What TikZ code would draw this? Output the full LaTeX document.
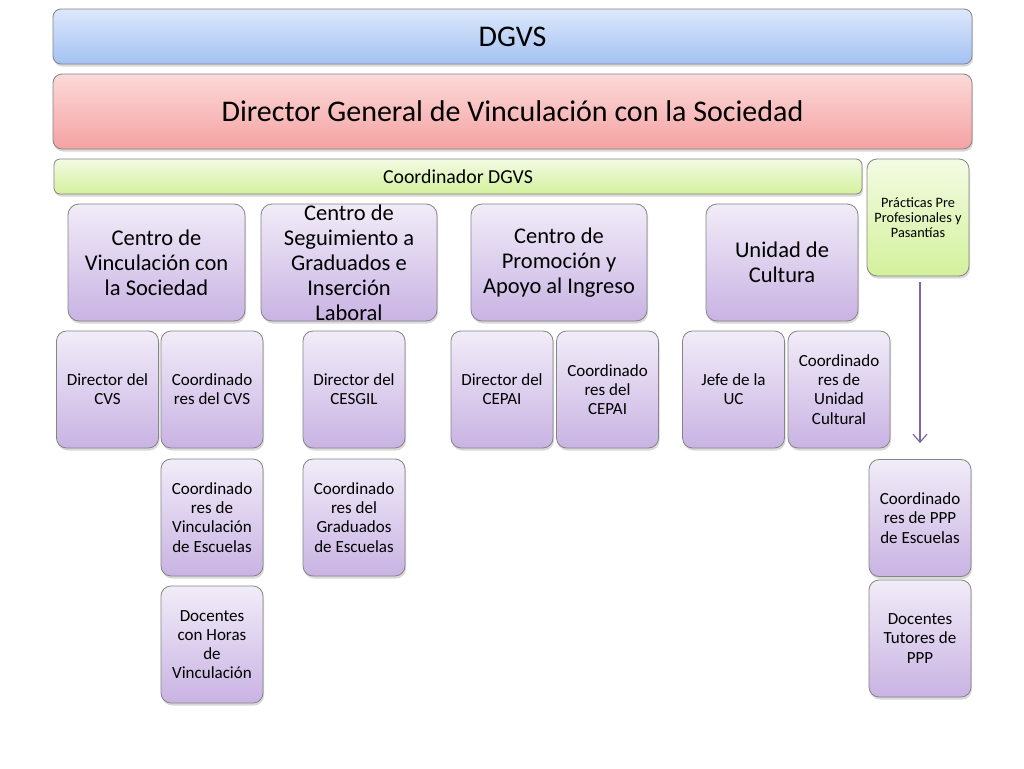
\documentclass[tikz,border=0pt]{standalone}
\usepackage{fontspec}
\setmainfont{Carlito}
\usetikzlibrary{shadows,arrows.meta}
\definecolor{bluetop}{HTML}{DDE8FB}
\definecolor{bluebot}{HTML}{A3C1F3}
\definecolor{redtop}{HTML}{FCD9D9}
\definecolor{redbot}{HTML}{F5A2A2}
\definecolor{greentop}{HTML}{F4FBE3}
\definecolor{greenbot}{HTML}{D3F19C}
\definecolor{purptop}{HTML}{F1ECF8}
\definecolor{purpbot}{HTML}{C9B3E3}
\definecolor{edgegray}{HTML}{858585}
\definecolor{arrowcol}{HTML}{7A6A9C}
\tikzset{
  basebox/.style={draw=edgegray, line width=0.8pt, inner sep=0pt, align=center,
    text=black, drop shadow={shadow xshift=1pt, shadow yshift=-2.5pt, opacity=0.3}},
  bluebox/.style={basebox, rounded corners=8pt, top color=bluetop, bottom color=bluebot},
  redbox/.style={basebox, rounded corners=9pt, top color=redtop, bottom color=redbot},
  greenbox/.style={basebox, rounded corners=6pt, top color=greentop, bottom color=greenbot},
  pppbox/.style={basebox, rounded corners=10pt, top color=greentop, bottom color=greenbot,
    minimum width=102pt, minimum height=117pt, font=\fontsize{14.3}{15}\selectfont},
  bigbox/.style={basebox, rounded corners=11pt, top color=purptop, bottom color=purpbot,
    minimum height=117pt, font=\fontsize{22.5}{25}\selectfont},
  smallbox/.style={basebox, rounded corners=10pt, top color=purptop, bottom color=purpbot,
    minimum width=102pt, minimum height=117pt, font=\fontsize{17}{19.2}\selectfont},
  linkarrow/.style={draw=arrowcol, line width=1.2pt, -{Straight Barb[length=8pt,width=14pt]}}
}
\begin{document}
\begin{tikzpicture}[x=1pt,y=-1pt]
\useasboundingbox[fill=white] (0,0) rectangle (1024,768);
% banners
\node[bluebox, minimum width=919pt, minimum height=55pt, font=\fontsize{30}{33}\selectfont]
  (dgvs) at (512.5,36.5) {DGVS};
\node[redbox, minimum width=919pt, minimum height=75pt, font=\fontsize{30}{33}\selectfont]
  (dir) at (512.5,111.5) {Director General de Vinculación con la Sociedad};
\node[greenbox, minimum width=808pt, minimum height=35pt, font=\fontsize{19.8}{22}\selectfont]
  (coord) at (458,176.5) {Coordinador DGVS};
\node[pppbox] (ppp) at (918,217.5) {Prácticas Pre\\Profesionales y\\Pasantías};
% second row
\node[bigbox, minimum width=177pt] (cvs) at (156.5,262.5) {Centro de\\Vinculación con\\la Sociedad};
\node[bigbox, minimum width=176pt] (cesgil) at (349,262.5) {Centro de\\Seguimiento a\\Graduados e\\Inserción\\Laboral};
\node[bigbox, minimum width=176pt] (cepai) at (559,262.5) {Centro de\\Promoción y\\Apoyo al Ingreso};
\node[bigbox, minimum width=152pt] (uc) at (782,262.5) {Unidad de\\Cultura};
% third row
\node[smallbox] (dcvs) at (107.5,389.5) {Director del\\CVS};
\node[smallbox] (ccvs) at (212,389.5) {Coordinado\\res del CVS};
\node[smallbox] (dcesgil) at (354,389.5) {Director del\\CESGIL};
\node[smallbox] (dcepai) at (502,389.5) {Director del\\CEPAI};
\node[smallbox] (ccepai) at (607.5,389.5) {Coordinado\\res del\\CEPAI};
\node[smallbox] (juc) at (733.5,389.5) {Jefe de la\\UC};
\node[smallbox] (cuc) at (839,389.5) {Coordinado\\res de\\Unidad\\Cultural};
% fourth row
\node[smallbox] (cve) at (212,517.5) {Coordinado\\res de\\Vinculación\\de Escuelas};
\node[smallbox] (cge) at (354,517.5) {Coordinado\\res del\\Graduados\\de Escuelas};
\node[smallbox] (cppp) at (920,518) {Coordinado\\res de PPP\\de Escuelas};
% fifth row
\node[smallbox] (dhv) at (212,644.5) {Docentes\\con Horas\\de\\Vinculación};
\node[smallbox] (dtp) at (920,638.5) {Docentes\\Tutores de\\PPP};
% connector
\draw[linkarrow, shorten <=6pt, shorten >=16pt] (ppp.south -| cppp.north) -- (cppp.north);
\end{tikzpicture}
\end{document}
